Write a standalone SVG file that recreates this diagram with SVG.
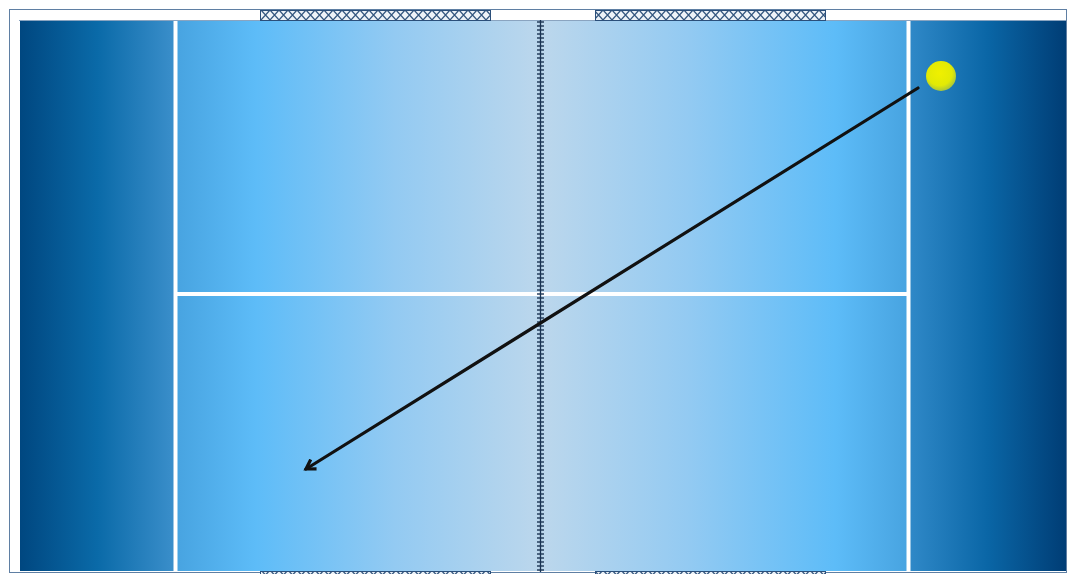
<svg xmlns="http://www.w3.org/2000/svg" width="1080" height="574" viewBox="0 0 1080 574">
<style>
.line{stroke:#ffffff;stroke-width:4;fill:none}
.hatch{fill:url(#hatch);stroke:#2b4f7a;stroke-width:1}
</style>
<defs>
<linearGradient id="gL" x1="0" y1="0" x2="1" y2="0">
<stop offset="0" stop-color="#004780"/>
<stop offset="0.5" stop-color="#0a6aa8"/>
<stop offset="1" stop-color="#3b8fcb"/>
</linearGradient>
<linearGradient id="gR" x1="0" y1="0" x2="1" y2="0">
<stop offset="0" stop-color="#3089c8"/>
<stop offset="0.5" stop-color="#0a66a6"/>
<stop offset="1" stop-color="#003d75"/>
</linearGradient>
<linearGradient id="gML" x1="0" y1="0" x2="1" y2="0">
<stop offset="0" stop-color="#47a3e0"/>
<stop offset="0.22" stop-color="#5dbcf8"/>
<stop offset="0.6" stop-color="#93caf2"/>
<stop offset="1" stop-color="#bcd7ec"/>
</linearGradient>
<linearGradient id="gMR" x1="0" y1="0" x2="1" y2="0">
<stop offset="0" stop-color="#bcd7ec"/>
<stop offset="0.4" stop-color="#93caf2"/>
<stop offset="0.8" stop-color="#5dbcf8"/>
<stop offset="1" stop-color="#47a3e0"/>
</linearGradient>
<radialGradient id="gBall" cx="0.45" cy="0.4" r="0.6">
<stop offset="0" stop-color="#f0f000"/>
<stop offset="0.7" stop-color="#e2ea05"/>
<stop offset="1" stop-color="#a9c63a"/>
</radialGradient>
<pattern id="hatch" width="9" height="10" patternUnits="userSpaceOnUse">
<rect width="9" height="10" fill="#eef3f8"/>
<path d="M0 0 L9 10 M9 0 L0 10" stroke="#34577f" stroke-width="1.3"/>
</pattern>
<pattern id="ticks" width="8" height="4" patternUnits="userSpaceOnUse">
<path d="M0 2 H8" stroke="#1a3352" stroke-width="1.4"/>
</pattern>
<marker id="arrow" markerWidth="14" markerHeight="14" refX="10" refY="7" orient="auto" markerUnits="userSpaceOnUse">
<path d="M1 1.5 L10 7 L1 12.5" fill="none" stroke="#111111" stroke-width="3.2" stroke-linejoin="miter"/>
</marker>
</defs>
<rect width="1080" height="574" fill="#ffffff"/>
<g id="frame">
<rect x="9.5" y="9.5" width="1057" height="563" fill="#ffffff" stroke="#5f7fa3" stroke-width="1"/>
<line x1="19" y1="20.5" x2="1066" y2="20.5" stroke="#8aa4c0" stroke-width="1"/>
<rect class="hatch" x="260.5" y="10.5" width="230" height="10"/>
<rect class="hatch" x="595.5" y="10.5" width="230" height="10"/>
<rect class="hatch" x="260.5" y="571.5" width="230" height="6"/>
<rect class="hatch" x="595.5" y="571.5" width="230" height="6"/>
</g>
<g id="court">
<rect x="20" y="21" width="155" height="550" fill="url(#gL)"/>
<rect x="175" y="21" width="366" height="550" fill="url(#gML)"/>
<rect x="541" y="21" width="368" height="550" fill="url(#gMR)"/>
<rect x="909" y="21" width="157" height="550" fill="url(#gR)"/>
<line class="line" x1="175.5" y1="21" x2="175.5" y2="571"/>
<line class="line" x1="908.5" y1="21" x2="908.5" y2="571"/>
<line class="line" x1="177" y1="294" x2="907" y2="294" stroke-width="3.5"/>
</g>
<g id="net">
<rect x="537" y="20" width="7" height="552" fill="url(#ticks)"/>
<line x1="540.5" y1="20" x2="540.5" y2="572" stroke="#1a3352" stroke-width="1.3"/>
</g>
<g id="ball">
<circle cx="941" cy="76" r="15" fill="url(#gBall)"/>
</g>
<g id="connectors">
<line x1="918" y1="88" x2="306" y2="469" stroke="#111111" stroke-width="3.2" stroke-linecap="round" marker-end="url(#arrow)"/>
</g>
</svg>
